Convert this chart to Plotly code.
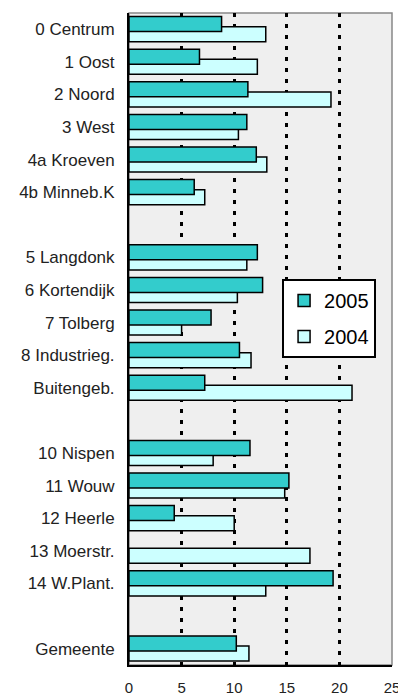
import plotly.graph_objects as go

FONT = "Liberation Sans, Arial, sans-serif"
TEAL = "#33cccc"
ICE = "#ccffff"

# category slots, blank names are the gaps between the groups
wijken = [
    "0 Centrum", "1 Oost", "2 Noord", "3 West", "4a Kroeven", "4b Minneb.K", " ",
    "5 Langdonk", "6 Kortendijk", "7 Tolberg", "8 Industrieg.", "Buitengeb.", "  ",
    "10 Nispen", "11 Wouw", "12 Heerle", "13 Moerstr.", "14 W.Plant.", "   ",
    "Gemeente",
]
y2005 = [8.8, 6.7, 11.3, 11.2, 12.1, 6.2, None,
         12.2, 12.7, 7.8, 10.5, 7.2, None,
         11.5, 15.2, 4.3, None, 19.4, None,
         10.2]
y2004 = [13.0, 12.2, 19.2, 10.4, 13.1, 7.2, None,
         11.2, 10.3, 5.0, 11.6, 21.2, None,
         8.0, 14.8, 10.0, 17.2, 13.0, None,
         11.4]
x_ticks = [0, 5, 10, 15, 20, 25]

fig = go.Figure()
# 2004 first so the 2005 bars overlap on top of it
fig.add_trace(go.Bar(
    y=wijken, x=y2004, orientation="h", name="2004",
    width=0.46, offset=-0.08,
    marker=dict(color=ICE, line=dict(color="black", width=1.5)),
    legendrank=2, legendgroup="b",
))
fig.add_trace(go.Bar(
    y=wijken, x=y2005, orientation="h", name="2005",
    width=0.46, offset=-0.39,
    marker=dict(color=TEAL, line=dict(color="black", width=1.5)),
    legendrank=1, legendgroup="a",
))

# page body has an 8px margin, so the figure is a bit smaller than the window
fig.update_layout(
    width=398, height=688,
    barmode="overlay",
    paper_bgcolor="white",
    plot_bgcolor="#efefef",
    font=dict(family=FONT, color="#222222", size=16),
    margin=dict(l=121, r=14, t=5, b=31, autoexpand=False),
    legend=dict(
        x=0.582, y=0.592, xanchor="left", yanchor="top",
        bgcolor="white", bordercolor="black", borderwidth=2,
        font=dict(size=20, color="black"),
        tracegroupgap=7,
    ),
    xaxis=dict(
        range=[0, 25], tickvals=x_ticks, automargin=False,
        showgrid=True, gridcolor="black", gridwidth=2.5, griddash="4px,7px",
        zeroline=False, showline=True, linecolor="black", linewidth=2,
        ticks="", ticklabelstandoff=8, tickfont=dict(size=15),
    ),
    yaxis=dict(
        type="category", range=[19.5, -0.5], automargin=False,
        showgrid=False, zeroline=False,
        showline=True, linecolor="black", linewidth=2,
        ticks="", ticklabelstandoff=9, tickfont=dict(size=17),
    ),
)
fig.add_shape(type="rect", xref="paper", yref="paper", x0=0, x1=1, y0=0, y1=1,
              line=dict(color="#888888", width=1.5), layer="below")

fig.write_html("out.html")
